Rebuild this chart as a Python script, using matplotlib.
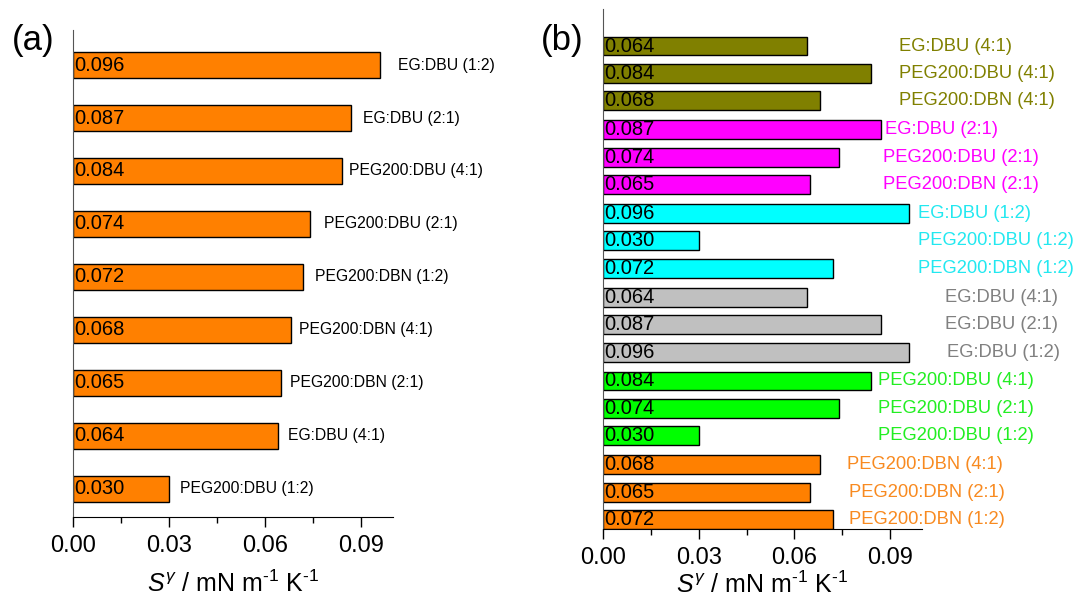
import matplotlib
matplotlib.use('Agg')
import matplotlib.pyplot as plt
from matplotlib.ticker import MultipleLocator, FormatStrFormatter

plt.rcParams['font.family'] = ['Liberation Sans', 'DejaVu Sans']
plt.rcParams['mathtext.fontset'] = 'custom'
plt.rcParams['mathtext.rm'] = 'Liberation Sans'
plt.rcParams['mathtext.it'] = 'Liberation Sans:italic'

# panel (a), top to bottom
a_names = ['EG:DBU (1:2)', 'EG:DBU (2:1)', 'PEG200:DBU (4:1)', 'PEG200:DBU (2:1)',
           'PEG200:DBN (1:2)', 'PEG200:DBN (4:1)', 'PEG200:DBN (2:1)', 'EG:DBU (4:1)',
           'PEG200:DBU (1:2)']
a_vals = [0.096, 0.087, 0.084, 0.074, 0.072, 0.068, 0.065, 0.064, 0.030]

# panel (b), groups top to bottom
b_names = [
    ['EG:DBU (4:1)', 'PEG200:DBU (4:1)', 'PEG200:DBN (4:1)'],
    ['EG:DBU (2:1)', 'PEG200:DBU (2:1)', 'PEG200:DBN (2:1)'],
    ['EG:DBU (1:2)', 'PEG200:DBU (1:2)', 'PEG200:DBN (1:2)'],
    ['EG:DBU (4:1)', 'EG:DBU (2:1)', 'EG:DBU (1:2)'],
    ['PEG200:DBU (4:1)', 'PEG200:DBU (2:1)', 'PEG200:DBU (1:2)'],
    ['PEG200:DBN (4:1)', 'PEG200:DBN (2:1)', 'PEG200:DBN (1:2)'],
]
b_vals = [
    [0.064, 0.084, 0.068],
    [0.087, 0.074, 0.065],
    [0.096, 0.030, 0.072],
    [0.064, 0.087, 0.096],
    [0.084, 0.074, 0.030],
    [0.068, 0.065, 0.072],
]
b_colors = ['#808000', '#FF00FF', '#00FFFF', '#C0C0C0', '#00FF00', '#FF8000']
b_textcolors = ['#808000', '#FF00FF', '#22E8F0', '#808080', '#22EE22', '#F88A20']

# label x positions (data units), layout only
a_label_x = [0.1016, 0.0906, 0.0862, 0.0784, 0.0755, 0.0705, 0.0677, 0.0671, 0.0335]
b_label_x = [[0.0928, 0.0928, 0.0928], [0.0884, 0.0878, 0.0878], [0.0988, 0.0988, 0.0988],
             [0.1072, 0.1072, 0.1078], [0.0863, 0.0863, 0.0863], [0.0766, 0.0772, 0.0772]]

xlab = r'$S^{\gamma}$ / mN m$^{\text{-1}}$ K$^{\text{-1}}$'

fig = plt.figure(figsize=(10.78, 6.01), dpi=100)
ax1 = fig.add_axes([0.0677, 0.1398, 0.2969, 0.8102])
ax2 = fig.add_axes([0.5594, 0.1198, 0.2959, 0.8652])


def style(ax, pad):
    ax.spines['top'].set_visible(False)
    ax.spines['right'].set_visible(False)
    ax.spines['left'].set_color('#555555')
    ax.spines['bottom'].set_color('black')
    ax.set_xlim(0, 0.1)
    ax.xaxis.set_major_locator(MultipleLocator(0.03))
    ax.xaxis.set_minor_locator(MultipleLocator(0.015))
    ax.xaxis.set_major_formatter(FormatStrFormatter('%.2f'))
    ax.tick_params(axis='x', which='major', length=7, width=1, labelsize=17, pad=6)
    ax.tick_params(axis='x', which='minor', length=4, width=1)
    ax.set_yticks([])
    ax.set_xlabel(xlab, fontsize=18, labelpad=pad)


# panel (a)
n = len(a_vals)
ya = [n - 1 - i for i in range(n)]
ax1.barh(ya, a_vals, height=0.5, color='#FF8000', edgecolor='black', linewidth=1)
for y, v, name, lx in zip(ya, a_vals, a_names, a_label_x):
    ax1.text(0.0003, y, '%.3f' % v, va='center', ha='left', fontsize=14.5)
    ax1.text(lx, y, name, va='center', ha='left', fontsize=11.3)
ax1.set_ylim(-0.53, n - 1 + 0.66)
style(ax1, 10)
fig.text(0.011, 0.932, '(a)', fontsize=25, va='center')

# panel (b)
step, gap = 1.0, 1.055
pos = []
y = 0.0
flat_names, flat_vals, flat_cols, flat_tcols, flat_lx = [], [], [], [], []
for gi in range(len(b_vals) - 1, -1, -1):
    for k in range(2, -1, -1):
        pos.append(y)
        flat_names.append(b_names[gi][k])
        flat_vals.append(b_vals[gi][k])
        flat_cols.append(b_colors[gi])
        flat_tcols.append(b_textcolors[gi])
        flat_lx.append(b_label_x[gi][k])
        y += step
    y += gap - step
ax2.barh(pos, flat_vals, height=0.69, color=flat_cols, edgecolor='black', linewidth=1)
for y, v, name, c, lx in zip(pos, flat_vals, flat_names, flat_tcols, flat_lx):
    ax2.text(0.0003, y, '%.3f' % v, va='center', ha='left', fontsize=14.5)
    ax2.text(lx, y, name, va='center', ha='left', fontsize=13.2, color=c)
ax2.set_ylim(-0.345, pos[-1] + 1.35)
style(ax2, 2)
fig.text(0.5015, 0.932, '(b)', fontsize=25, va='center')

fig.savefig('out.png', dpi=100)
